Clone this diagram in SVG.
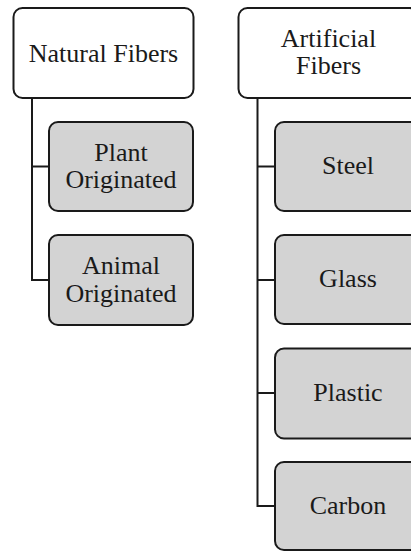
<svg xmlns="http://www.w3.org/2000/svg" width="411" height="552" viewBox="0 0 411 552">
<style>
.box{stroke:#1a1a1a;stroke-width:2;}
.top{fill:#ffffff;}
.sub{fill:#d3d3d3;}
.lbl{font-family:'Liberation Serif','Times New Roman',serif;font-size:26px;fill:#1a1a1a;text-anchor:middle;}
.conn{fill:none;stroke:#1a1a1a;stroke-width:2;}
</style>
<rect width="411" height="552" fill="#ffffff"/>
<g id="connectors">
<polyline class="conn" points="32,98 32,280 49,280"/>
<line class="conn" x1="32" y1="166.5" x2="49" y2="166.5"/>
<polyline class="conn" points="257.5,98 257.5,506 275,506"/>
<line class="conn" x1="257.5" y1="166.5" x2="275" y2="166.5"/>
<line class="conn" x1="257.5" y1="280" x2="275" y2="280"/>
<line class="conn" x1="257.5" y1="393" x2="275" y2="393"/>
</g>
<g id="natural">
<rect class="box top" x="13.5" y="8" width="180" height="90" rx="9"/>
<text class="lbl" x="103.5" y="62">Natural Fibers</text>
</g>
<g id="plant">
<rect class="box sub" x="49" y="122" width="144" height="89" rx="9"/>
<text class="lbl" x="121" y="161">Plant</text>
<text class="lbl" x="121" y="188">Originated</text>
</g>
<g id="animal">
<rect class="box sub" x="49" y="235" width="144" height="90" rx="9"/>
<text class="lbl" x="121" y="274">Animal</text>
<text class="lbl" x="121" y="301.5">Originated</text>
</g>
<g id="artificial">
<rect class="box top" x="238.5" y="8" width="180" height="90" rx="9"/>
<text class="lbl" x="328.5" y="47">Artificial</text>
<text class="lbl" x="328.5" y="74">Fibers</text>
</g>
<g id="steel">
<rect class="box sub" x="275" y="122" width="146" height="89" rx="9"/>
<text class="lbl" x="348" y="174">Steel</text>
</g>
<g id="glass">
<rect class="box sub" x="275" y="235" width="146" height="89" rx="9"/>
<text class="lbl" x="348" y="287">Glass</text>
</g>
<g id="plastic">
<rect class="box sub" x="275" y="348.5" width="146" height="90" rx="9"/>
<text class="lbl" x="348" y="401">Plastic</text>
</g>
<g id="carbon">
<rect class="box sub" x="275" y="462" width="146" height="88" rx="9"/>
<text class="lbl" x="348" y="514">Carbon</text>
</g>
</svg>
